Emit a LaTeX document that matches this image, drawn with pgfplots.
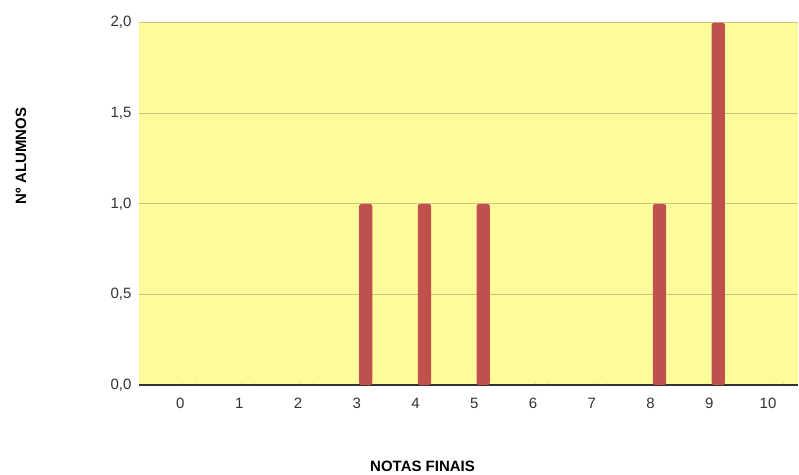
\documentclass[border=0pt]{standalone}
\usepackage{pgfplots}
\pgfplotsset{compat=1.18}
\usepackage{fontspec}
\setmainfont{Liberation Sans}
\definecolor{bg}{HTML}{FEFC9A}
\definecolor{gridc}{HTML}{CBC47C}
\definecolor{barc}{HTML}{C0504D}
\definecolor{axisc}{HTML}{333333}
\begin{document}
\begin{tikzpicture}
\begin{axis}[
  scale only axis,
  width=659.7bp, height=362.8bp,
  xmin=-0.855, xmax=10.36,
  ymin=0, ymax=2,
  axis background/.style={fill=bg},
  axis line style={draw=none},
  major tick length=0pt,
  xtick={0,1,2,3,4,5,6,7,8,9,10},
  ytick={0,0.5,1,1.5,2},
  ymajorgrids,
  grid style={gridc, line width=1.2bp},
  extra y ticks={0},
  extra y tick labels={},
  extra y tick style={grid style={axisc, line width=1.6bp}},
  /pgf/number format/assume math mode=true,
  yticklabel style={/pgf/number format/.cd, fixed, fixed zerofill, precision=1, use comma, /tikz/.cd,
     anchor=east, inner sep=0pt, xshift=-7.6bp, font=\fontsize{15bp}{18bp}\selectfont, text=black!80},
  xticklabel style={anchor=north, inner sep=0pt, xshift=-9bp, yshift=-12.5bp,
     font=\fontsize{15bp}{18bp}\selectfont, text=black!80},
  xlabel={NOTAS FINAIS},
  ylabel={Nº ALUMNOS},
  xlabel style={at={(axis description cs:0.43,0)}, anchor=center, yshift=-81bp,
     font=\bfseries\fontsize{15bp}{18bp}\selectfont},
  ylabel style={at={(axis description cs:0,0.632)}, anchor=center, yshift=118.3bp,
     font=\bfseries\fontsize{15bp}{18bp}\selectfont},
  ybar, bar width=13.4bp,
]
\addplot[fill=barc, draw=none, rounded corners=2.5bp] coordinates {
  (0,0) (1,0) (2,0) (3,1) (4,1) (5,1) (6,0) (7,0) (8,1) (9,2) (10,0)
};
\end{axis}
\path (current axis.south west) ++(-139.3bp,-89.5bp) rectangle ++(799bp,475bp);
\end{tikzpicture}
\end{document}
